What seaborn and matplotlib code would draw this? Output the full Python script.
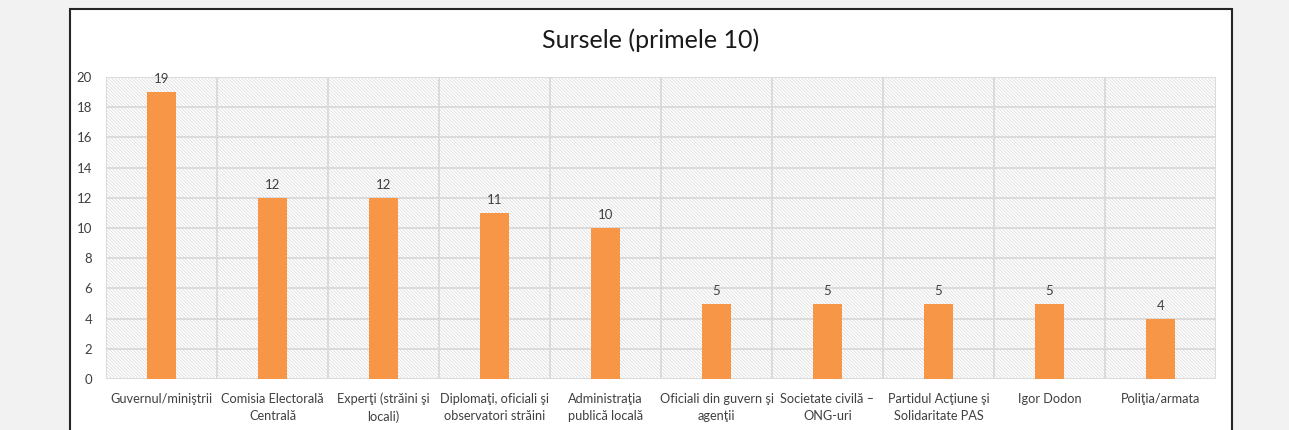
import matplotlib
matplotlib.use("Agg")
import matplotlib.pyplot as plt
import seaborn as sns
import pandas as pd
from matplotlib.patches import Rectangle

categories = [
    "Guvernul/miniştrii",
    "Comisia Electorală\nCentrală",
    "Experţi (străini şi\nlocali)",
    "Diplomaţi, oficiali şi\nobservatori străini",
    "Administraţia\npublică locală",
    "Oficiali din guvern şi\nagenţii",
    "Societate civilă –\nONG-uri",
    "Partidul Acţiune şi\nSolidaritate PAS",
    "Igor Dodon",
    "Poliţia/armata",
]
values = [19, 12, 12, 11, 10, 5, 5, 5, 5, 4]
title = "Sursele (primele 10)"

sns.set_style("white")
plt.rcParams["font.family"] = ["Lato", "DejaVu Sans"]
plt.rcParams["hatch.color"] = "#d8d8d8"
plt.rcParams["hatch.linewidth"] = 0.5

df = pd.DataFrame({"cat": categories, "val": values})

fig = plt.figure(figsize=(12.89, 4.30), dpi=100)
fig.patch.set_facecolor("#f2f2f2")

# white chart box with dark border (bottom edge is cut off)
fig.patches.append(Rectangle((70 / 1289, -0.1), (1232 - 70) / 1289, 1.1 - 9 / 430,
                             transform=fig.transFigure, facecolor="white",
                             edgecolor="#262626", linewidth=1.5, zorder=-5))

ax = fig.add_axes([106 / 1289, 1 - 379 / 430, (1216 - 106) / 1289, (379 - 77) / 430])
ax.set_facecolor("none")
ax.add_patch(Rectangle((0, 0), 1, 1, transform=ax.transAxes, facecolor="white",
                       hatch="\\" * 10, edgecolor="#d8d8d8", linewidth=0, zorder=0))

sns.barplot(data=df, x="cat", y="val", color="#f79646", width=0.27,
            saturation=1, linewidth=0, edgecolor="none", ax=ax, zorder=3)

ax.set_xlim(-0.5, len(categories) - 0.5)
ax.set_ylim(0, 20)
ax.set_yticks(range(0, 21, 2))
for b in [i + 0.5 for i in range(-1, len(categories))]:
    ax.axvline(b, color="#d9d9d9", linewidth=1.3, zorder=1)
for y in range(0, 21, 2):
    ax.axhline(y, color="#d9d9d9", linewidth=1.3, zorder=1)

for i, v in enumerate(values):
    ax.text(i, v + 0.45, str(v), ha="center", va="bottom", fontsize=9.5, color="#404040")

ax.set_xlabel("")
ax.set_ylabel("")
ax.tick_params(axis="both", length=0, labelsize=9.5, colors="#404040")
ax.tick_params(axis="x", pad=10, labelsize=9.2)
ax.tick_params(axis="y", pad=10)
for lbl in ax.get_xticklabels():
    lbl.set_linespacing(1.5)
for s in ax.spines.values():
    s.set_visible(False)

fig.text(651 / 1289, 1 - 40 / 430, title, ha="center", va="center", fontsize=18, color="#1a1a1a")

fig.savefig("out.png", dpi=100, facecolor=fig.get_facecolor())
